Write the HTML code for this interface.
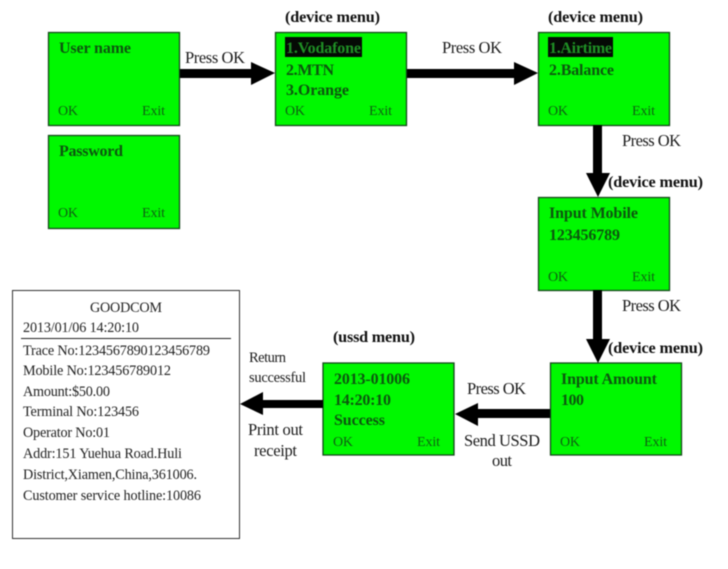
<!DOCTYPE html>
<html>
<head>
<meta charset="utf-8">
<style>
html,body{margin:0;padding:0;background:#fff;width:728px;height:569px;overflow:hidden}
svg{display:block;filter:blur(0.45px)}
text{font-family:"Liberation Serif",serif;font-size:16.5px;fill:#1c1c1c}
.b{font-weight:bold;fill:#0d560f;font-size:16px}
.o{fill:#0f6012;font-size:14px}
.h{font-weight:bold;fill:#111;font-size:16.2px}
.r{font-size:14.2px;fill:#222}
rect.g{fill:#00f800;stroke:#14471a;stroke-width:1.3}
</style>
</head>
<body>
<svg width="728" height="569" viewBox="0 0 728 569" xmlns="http://www.w3.org/2000/svg">
<rect width="728" height="569" fill="#fff"/>

<!-- boxes -->
<rect class="g" x="48.5" y="32.5" width="131" height="93"/>
<rect class="g" x="48.5" y="135.5" width="131" height="93"/>
<rect class="g" x="275.5" y="32.5" width="131" height="93"/>
<rect class="g" x="538.5" y="32.5" width="131" height="93"/>
<rect class="g" x="538.5" y="197.5" width="131" height="93"/>
<rect class="g" x="550.5" y="363" width="131" height="92"/>
<rect class="g" x="323" y="363" width="131" height="92"/>
<rect x="12.5" y="290.5" width="227" height="248" fill="#fff" stroke="#333" stroke-width="1"/>
<line x1="21" y1="338.5" x2="231" y2="338.5" stroke="#222" stroke-width="1"/>

<!-- highlights -->
<rect x="285" y="37" width="77" height="20" fill="#050a05"/>
<rect x="548" y="37" width="65" height="20" fill="#050a05"/>

<!-- arrows -->
<rect x="180" y="69" width="72" height="9" fill="#000"/>
<polygon points="251,62 275,73 251,85" fill="#000"/>
<rect x="407" y="69" width="108" height="9" fill="#000"/>
<polygon points="514,62 538,73 514,85" fill="#000"/>
<rect x="593" y="125" width="9" height="50" fill="#000"/>
<polygon points="586,173 610,173 598,197" fill="#000"/>
<rect x="593" y="290" width="9" height="50" fill="#000"/>
<polygon points="586,339 610,339 598,363" fill="#000"/>
<rect x="477" y="409" width="73" height="9" fill="#000"/>
<polygon points="478,403 478,426 455,414" fill="#000"/>
<rect x="262" y="400" width="61" height="8" fill="#000"/>
<polygon points="263,392 263,415 240,404" fill="#000"/>

<!-- box text -->
<text class="b" x="59" y="53" textLength="72">User name</text>
<text class="o" x="58" y="115" textLength="20">OK</text>
<text class="o" x="142" y="115" textLength="23">Exit</text>

<text class="b" x="59" y="156" textLength="64">Password</text>
<text class="o" x="58" y="217" textLength="20">OK</text>
<text class="o" x="142" y="217" textLength="23">Exit</text>

<text class="b" x="286" y="53" textLength="75" style="fill:#1f8f25">1.Vodafone</text>
<text class="b" x="286" y="75" textLength="48">2.MTN</text>
<text class="b" x="286" y="95" textLength="63">3.Orange</text>
<text class="o" x="285" y="115" textLength="20">OK</text>
<text class="o" x="369" y="115" textLength="23">Exit</text>

<text class="b" x="549" y="53" textLength="63" style="fill:#1f8f25">1.Airtime</text>
<text class="b" x="549" y="75" textLength="65">2.Balance</text>
<text class="o" x="548" y="115" textLength="20">OK</text>
<text class="o" x="632" y="115" textLength="23">Exit</text>

<text class="b" x="549" y="218" textLength="89">Input Mobile</text>
<text class="b" x="549" y="240" textLength="71">123456789</text>
<text class="o" x="548" y="281" textLength="20">OK</text>
<text class="o" x="632" y="281" textLength="23">Exit</text>

<text class="b" x="561" y="384" textLength="96">Input Amount</text>
<text class="b" x="561" y="405" textLength="23">100</text>
<text class="o" x="560" y="446" textLength="20">OK</text>
<text class="o" x="644" y="446" textLength="23">Exit</text>

<text class="b" x="334" y="384" textLength="76">2013-01006</text>
<text class="b" x="334" y="405" textLength="57">14:20:10</text>
<text class="b" x="334" y="425" textLength="51">Success</text>
<text class="o" x="333" y="446" textLength="20">OK</text>
<text class="o" x="417" y="446" textLength="23">Exit</text>

<!-- headers -->
<text class="h" x="285" y="22" textLength="95">(device menu)</text>
<text class="h" x="548" y="22" textLength="95">(device menu)</text>
<text class="h" x="608" y="187" textLength="95">(device menu)</text>
<text class="h" x="608" y="353" textLength="95">(device menu)</text>
<text class="h" x="333" y="342" textLength="82">(ussd menu)</text>

<!-- labels -->
<text x="185" y="63" textLength="60">Press OK</text>
<text x="442" y="53" textLength="60">Press OK</text>
<text x="622" y="146" textLength="59">Press OK</text>
<text x="622" y="311" textLength="59">Press OK</text>
<text x="467" y="394" textLength="59">Press OK</text>
<text x="464" y="446" textLength="76">Send USSD</text>
<text x="492" y="466" textLength="20">out</text>

<text x="249" y="362" textLength="37" style="font-size:14.5px">Return</text>
<text x="249" y="382" textLength="57" style="font-size:14.5px">successful</text>
<text x="248" y="435" textLength="55">Print out</text>
<text x="254" y="456" textLength="43">receipt</text>

<!-- receipt -->
<text class="r" x="90" y="312" textLength="72">GOODCOM</text>
<text class="r" x="23" y="332" textLength="116">2013/01/06 14:20:10</text>
<text class="r" x="23" y="355" textLength="187">Trace No:1234567890123456789</text>
<text class="r" x="23" y="375" textLength="148">Mobile No:123456789012</text>
<text class="r" x="23" y="396" textLength="87">Amount:$50.00</text>
<text class="r" x="23" y="416" textLength="116">Terminal No:123456</text>
<text class="r" x="23" y="437" textLength="87">Operator No:01</text>
<text class="r" x="23" y="458" textLength="159">Addr:151 Yuehua Road.Huli</text>
<text class="r" x="23" y="479" textLength="174">District,Xiamen,China,361006.</text>
<text class="r" x="23" y="500" textLength="178">Customer service hotline:10086</text>
</svg>
</body>
</html>
